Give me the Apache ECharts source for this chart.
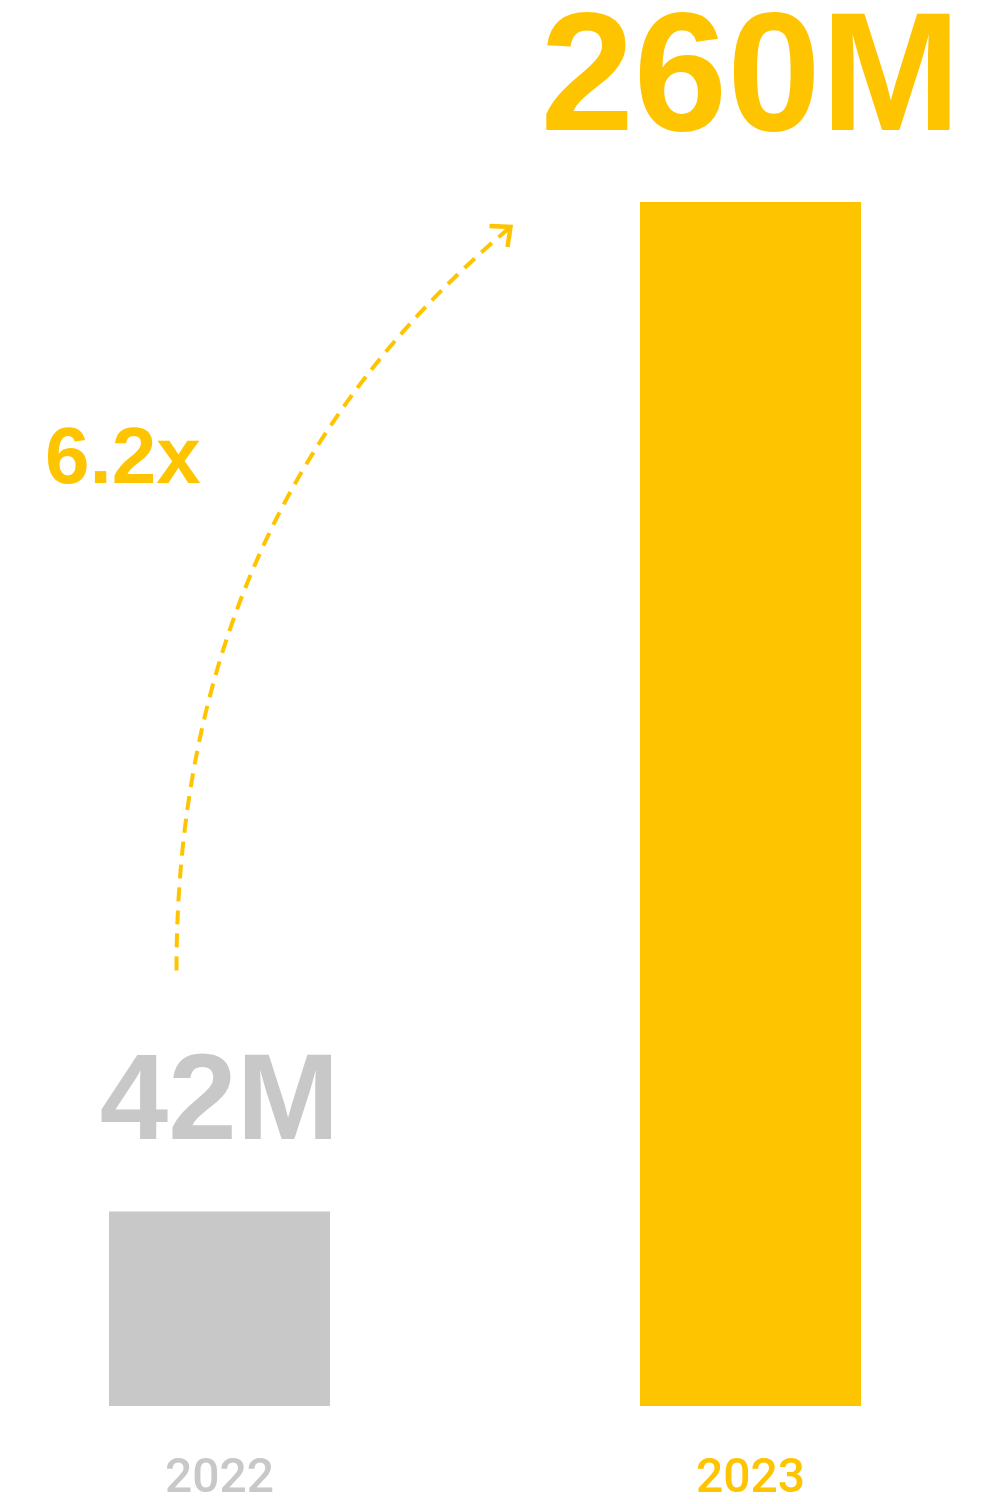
<!DOCTYPE html>
<html>
<head>
<meta charset="utf-8">
<style>
  html,body{margin:0;padding:0;background:#fff;}
  #chart{width:1000px;height:1504px;}
</style>
<script src="https://cdn.jsdelivr.net/npm/echarts@6/dist/echarts.min.js"></script>
</head>
<body>
<div id="chart"></div>
<script>
'use strict';
var years = ['2022', '2023'];
var users = [42, 260];
var valueLabels = ['42M', '260M'];
var growthText = '6.2x';

var GREY = '#c8c8c8';
var YELLOW = '#ffc400';
var FONT = '"Liberation Sans", Arial, Helvetica, sans-serif';

(function () {
  var myChart = echarts.init(document.getElementById('chart'));

  function barItem(v, i) {
    var last = i === users.length - 1;
    return {
      value: v,
      itemStyle: { color: last ? YELLOW : GREY },
      label: {
        show: true,
        position: 'top',
        formatter: valueLabels[i],
        color: last ? YELLOW : GREY,
        fontFamily: FONT,
        fontWeight: 'bold',
        fontSize: last ? 168 : 123,
        lineHeight: last ? 168 : 123,
        distance: last ? 34 : 45
      }
    };
  }

  // boundaryGap off so the two bar centres sit on the grid edges
  var option = {
    animation: false,
    backgroundColor: '#fff',
    grid: { left: 219.5, right: 249.5, top: 202, bottom: 96 },
    xAxis: {
      type: 'category',
      data: years,
      boundaryGap: false,
      axisLine: { show: false },
      axisTick: { show: false },
      axisLabel: {
        margin: 50,
        fontFamily: 'Roboto, ' + FONT,
        fontWeight: 500,
        fontSize: 48,
        lineHeight: 48,
        color: function (val, idx) {
          return idx === years.length - 1 ? YELLOW : GREY;
        }
      }
    },
    yAxis: {
      type: 'value',
      min: 0,
      max: 260,
      show: false,
      splitLine: { show: false }
    },
    series: [{
      type: 'bar',
      barWidth: 221,
      clip: false,
      data: users.map(barItem)
    }]
  };
  myChart.setOption(option);

  // dashed growth arrow, anchored on the bar tops
  var p0 = myChart.convertToPixel({ seriesIndex: 0 }, [0, users[0]]);
  var p1 = myChart.convertToPixel({ seriesIndex: 0 }, [1, users[1]]);
  var sx = p0[0] - 43, sy = p0[1] - 241;
  var ex = p1[0] - 240, ey = p1[1] + 25;

  myChart.setOption({
    graphic: [
      {
        type: 'bezierCurve',
        shape: { x1: sx, y1: sy, x2: ex, y2: ey, cpx1: sx, cpy1: sy - 463 },
        style: { stroke: YELLOW, lineWidth: 4, lineDash: [14, 9], fill: null }
      },
      {
        type: 'polyline',
        shape: { points: [[ex - 21, ey - 1], [ex, ey], [ex - 3, ey + 20]] },
        style: { stroke: YELLOW, lineWidth: 4.5, fill: null }
      },
      {
        type: 'text',
        x: 45,
        y: 461,
        style: {
          text: growthText,
          fill: YELLOW,
          font: 'bold 80px ' + FONT,
          lineHeight: 80,
          align: 'left',
          verticalAlign: 'middle'
        }
      }
    ]
  });
})();
</script>
</body>
</html>
